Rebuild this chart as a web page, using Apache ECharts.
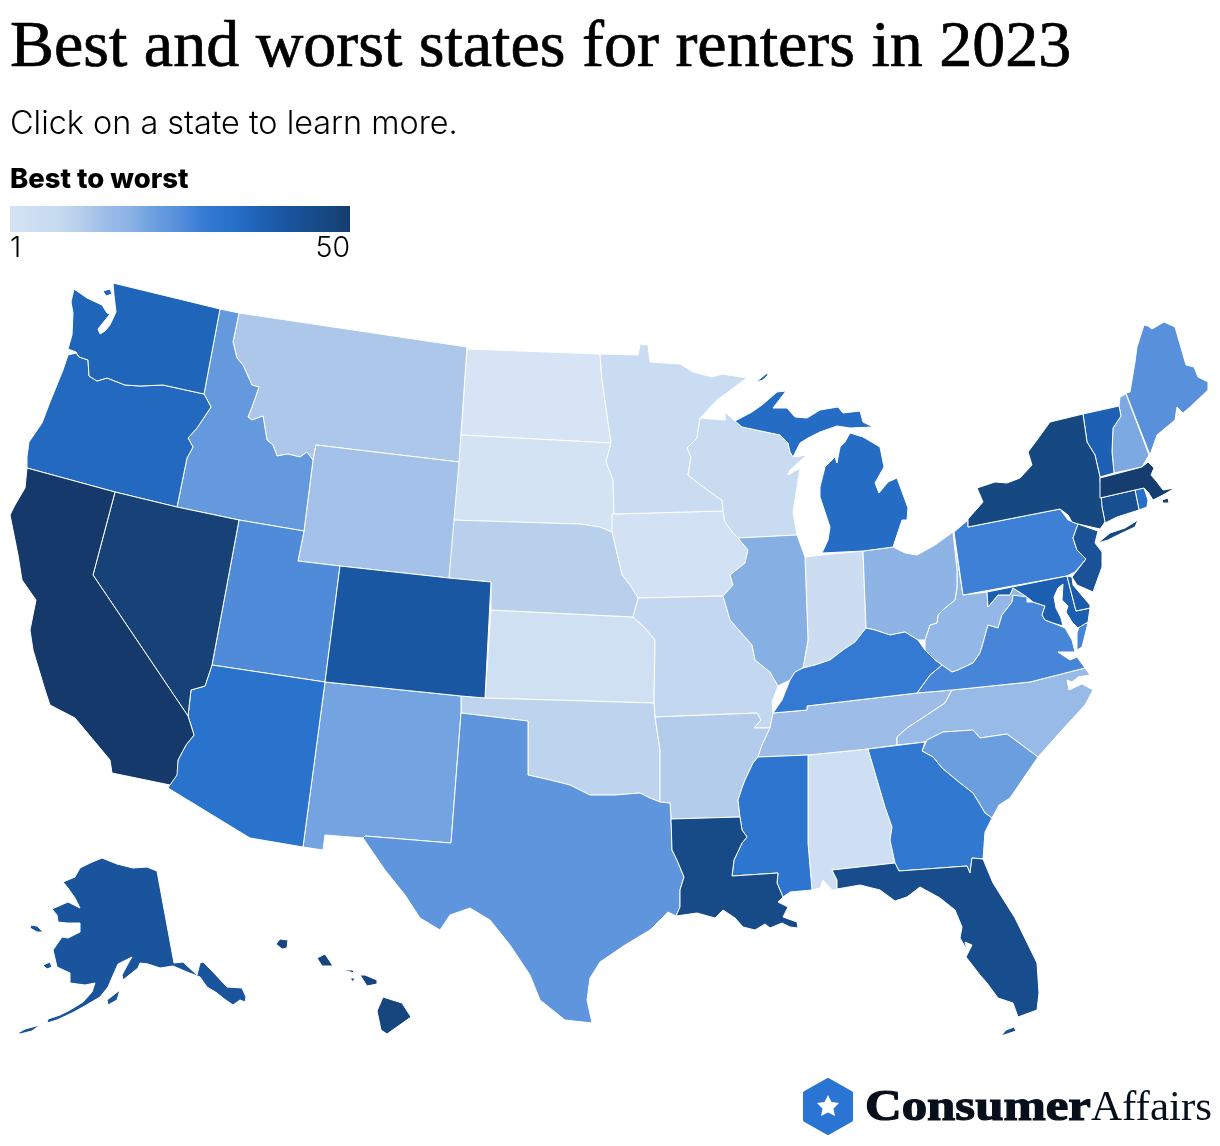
<!DOCTYPE html>
<html>
<head>
<meta charset="utf-8">
<title>Best and worst states for renters in 2023</title>
<script src="https://cdn.jsdelivr.net/npm/echarts@6/dist/echarts.min.js"></script>
<style>
html,body{margin:0;padding:0;background:#fff}
#main{width:1220px;height:1146px}
</style>
</head>
<body>
<div id="main"></div>
<script>
// rank of each state
var stateNames = ['ND','SD','IA','KS','AL','IN','MN','WI','MO','OK','NE','AR','MT','WY','TN','NC','WV','OH','IL','NH','NM','SC','ID','TX','ME','UT','VA','PA','KY','GA','MS','AZ','RI','MI','OR','WA','VT','MD','DE','CO','AK','NJ','CT','FL','LA','NY','HI','NV','MA','CA'];
var stateRanks = [1,2,3,4,5,6,7,8,9,10,11,12,13,14,15,16,17,18,19,20,21,22,23,24,25,26,27,28,29,30,31,32,33,34,35,36,37,38,39,40,41,42,43,44,45,46,47,48,49,50];
var rankMin = 1;
var rankMax = 50;

// state outlines, one string per ring
var outlines = {
WA:['113,283 220,309 204,394 163,385 140,386 125,385 107,378 97,381 89,376 88,360 79,357 76,352 68,349 72,335 73,313 71,302 74,289 87,298 102,305 107,313 110,314 98,329 100,334 105,331 110,325 116,312 114,295','103,291 110,289 112,294 106,296'],
OR:['68,355 76,353 79,357 88,360 89,376 97,381 107,378 125,385 140,386 163,385 204,394 211,407 197,428 188,438 193,447 187,458 177,507 115,492 27,468 27,457 29,442 42,423 50,402 63,370'],
CA:['27,468 115,492 93,575 188,716 194,735 186,745 178,760 177,775 170,785 112,773 110,760 95,742 75,718 50,705 45,690 33,650 30,630 36,600 22,580 18,555 10,515 15,505 25,488'],
NV:['115,492 177,507 239,520 212,665 205,686 191,690 188,716 93,575'],
ID:['220,309 239,313 233,342 237,358 243,365 252,385 259,387 252,407 248,417 252,420 263,416 267,440 273,445 277,456 288,454 300,457 307,452 313,460 304,531 239,520 177,507 187,458 193,447 188,438 197,428 211,407 204,394'],
MT:['239,313 467,347 459,462 316,445 313,460 307,452 300,457 288,454 277,456 273,445 267,440 263,416 252,420 248,417 252,407 259,387 252,385 243,365 237,358 233,342'],
WY:['316,445 459,462 449,578 340,566 298,561 304,531 313,460'],
UT:['239,520 304,531 298,561 340,566 325,682 212,665'],
CO:['340,566 449,578 491,582 485,698 461,696 325,682'],
AZ:['212,665 325,682 303,847 250,838 168,788 176,775 178,760 186,745 194,735 188,716 191,690 205,686'],
NM:['325,682 461,696 461,713 451,843 365,836 363,838 325,835 323,850 303,847'],
TX:['461,713 528,721 528,775 550,780 570,785 590,795 615,795 640,793 650,798 660,802 670,803 671,819 672,850 677,860 684,877 680,890 680,907 676,916 668,912 650,930 625,945 600,962 590,978 587,1000 592,1023 565,1020 540,1000 530,975 510,945 490,920 470,908 450,915 440,930 420,918 405,895 385,870 363,838 365,836 451,843'],
ND:['467,349 600,354 602,380 611,443 461,435'],
SD:['461,435 611,443 606,462 613,480 614,514 612,532 600,527 580,524 452,520'],
NE:['452,520 580,524 600,527 612,532 622,575 630,585 638,598 633,617 491,610 491,582 449,578'],
KS:['491,610 633,617 645,628 655,640 654,703 485,698'],
OK:['461,696 485,698 654,703 655,717 660,750 660,802 650,798 640,793 615,795 590,795 570,785 550,780 528,775 528,721 461,713'],
MN:['600,354 638,355 640,344 648,345 650,362 680,364 693,372 712,377 722,374 747,378 717,400 700,418 697,438 687,448 691,457 688,475 698,483 717,497 722,500 723,511 614,514 613,480 606,462 611,443 602,380'],
IA:['612,514 723,511 725,522 733,533 738,538 748,550 745,563 730,575 733,585 723,596 638,598 630,585 622,575 612,532'],
MO:['638,598 723,596 730,620 752,645 755,660 770,672 778,686 772,702 773,713 770,728 754,728 761,720 757,713 655,717 654,703 655,640 645,628 633,617'],
AR:['655,717 757,713 761,720 754,728 770,728 762,745 758,757 753,763 745,780 742,788 738,800 740,817 671,819 670,803 660,802 660,750'],
LA:['671,819 740,817 742,830 747,837 742,843 734,860 732,876 778,873 777,883 783,897 778,902 788,907 783,917 797,922 798,928 790,927 782,923 770,928 765,924 755,930 743,927 735,918 723,910 715,918 697,913 676,916 680,907 680,890 684,877 677,860 672,850'],
WI:['700,418 725,420 725,412 735,421 742,427 780,435 788,443 790,452 795,457 807,455 790,470 788,475 800,468 795,500 793,512 797,535 738,538 733,533 725,522 723,511 722,500 717,497 698,483 688,475 691,457 687,448 697,438'],
IL:['738,538 797,535 805,557 808,640 803,668 795,672 790,680 778,686 770,672 755,660 752,645 730,620 723,596 733,585 730,575 745,563 748,550'],
IN:['805,557 822,555 863,551 866,628 855,642 843,650 830,660 815,665 803,668 808,640'],
MI:['822,553 828,540 830,527 820,497 820,487 825,467 835,457 837,463 840,447 845,442 850,433 863,437 880,447 884,467 875,483 879,493 888,482 897,478 908,508 907,520 902,520 893,547 863,551','735,421 752,412 762,405 777,392 786,391 773,408 787,408 795,417 807,418 820,410 838,407 843,413 860,411 863,422 873,427 850,428 837,426 820,432 808,438 800,443 793,457 790,452 788,443 780,435 742,427','756,382 767,373 768,375 763,380'],
OH:['863,551 893,547 905,553 917,555 935,545 953,532 957,570 957,587 955,600 945,608 938,615 937,623 930,625 925,640 918,640 905,632 890,635 875,630 866,628'],
KY:['773,713 782,700 790,680 795,672 803,668 815,665 830,660 843,650 855,642 866,628 875,630 890,635 905,632 918,640 925,650 935,660 942,665 930,675 917,693 807,706 807,710'],
TN:['773,713 807,710 807,706 917,693 952,690 945,703 927,715 907,728 897,737 897,745 868,749 808,755 758,757 762,745 770,728'],
MS:['758,757 808,755 808,843 812,890 790,892 783,897 777,883 778,873 732,876 734,860 742,843 747,837 742,830 740,817 738,800 742,788 745,780 753,763'],
AL:['808,755 868,749 885,807 892,827 890,840 895,863 832,870 837,880 837,890 832,890 823,880 820,888 812,890 808,843'],
GA:['868,749 925,742 922,751 933,757 942,768 960,783 973,793 985,813 992,818 985,832 983,859 972,858 970,873 967,866 899,871 895,863 890,840 892,827 885,807'],
FL:['832,870 895,863 899,871 967,866 970,873 972,858 983,859 993,883 1015,918 1037,963 1039,993 1037,1010 1018,1017 1013,1003 998,998 987,983 980,975 966,957 972,945 965,942 967,950 960,938 962,927 955,910 940,898 920,887 907,897 895,901 880,890 860,885 837,889 837,880','1001,1036 1006,1030 1014,1027 1016,1031 1007,1034'],
SC:['922,751 927,740 943,732 973,730 980,738 1007,734 1038,757 1027,773 1010,798 999,805 992,818 985,813 973,793 960,783 942,768 933,757'],
NC:['1085,668 1090,675 1078,677 1072,682 1067,680 1069,690 1082,684 1093,690 1085,705 1062,730 1038,757 1007,734 980,738 973,730 943,732 927,740 925,742 897,745 897,737 907,728 927,715 945,703 952,690 1030,682'],
VA:['1027,597 1027,602 1033,602 1045,606 1042,615 1045,620 1053,623 1065,628 1072,640 1075,652 1058,652 1070,660 1077,657 1085,668 1030,682 952,690 917,693 930,675 942,665 952,672 958,670 973,663 980,653 983,643 988,625 998,628 1002,615 1012,602 1013,595','1080,624 1088,623 1082,647 1077,650 1077,633'],
WV:['953,532 963,595 987,592 988,607 998,595 1010,595 1013,588 1027,597 1027,602 1013,595 1012,602 1002,615 998,628 988,625 983,643 980,653 973,663 958,670 952,672 942,665 935,660 925,650 925,640 930,625 937,623 938,615 945,608 955,600 957,587 957,570'],
PA:['954,532 968,520 968,527 1060,509 1068,520 1078,524 1073,538 1077,550 1086,559 1075,572 1067,576 963,595'],
NY:['968,527 1060,509 1068,515 1072,522 1078,524 1100,529 1105,522 1102,507 1100,477 1095,455 1087,442 1083,414 1050,422 1037,440 1028,452 1032,465 1020,478 1007,483 995,482 977,488 983,502 968,519','1098,543 1110,533 1125,528 1138,520 1135,527 1122,533 1108,540'],
VT:['1083,414 1119,406 1121,416 1113,428 1112,452 1114,473 1100,477 1095,455 1087,442'],
NH:['1119,406 1120,397 1126,394 1149,455 1142,467 1114,473 1112,452 1113,428 1121,416'],
ME:['1126,393 1130,392 1135,362 1137,347 1144,325 1148,326 1152,329 1164,322 1175,327 1186,365 1194,367 1198,377 1208,382 1208,390 1190,407 1183,413 1177,407 1175,420 1157,435 1150,455'],
MA:['1100,478 1142,467 1148,462 1154,468 1151,475 1157,482 1163,490 1175,488 1163,495 1153,500 1148,492 1144,488 1135,490 1100,498','1162,500 1168,498 1169,503 1163,503'],
CT:['1100,498 1135,490 1139,510 1117,517 1105,523 1102,507'],
RI:['1135,490 1144,488 1148,500 1147,507 1139,510'],
NJ:['1078,524 1098,531 1095,543 1102,552 1102,567 1093,592 1077,585 1072,577 1086,559 1077,550 1073,538'],
DE:['1067,576 1072,577 1073,585 1090,605 1090,608 1076,611'],
MD:['987,592 1067,576 1076,611 1090,608 1088,622 1078,628 1072,622 1066,612 1068,606 1062,600 1063,584 1058,588 1054,597 1056,608 1061,618 1063,626 1053,623 1045,620 1042,615 1045,606 1033,602 1027,597 1013,588 1010,595 998,595 988,607'],
AK:['157,871 174,963 183,962 197,975 200,963 203,962 213,972 227,987 242,988 246,997 245,1002 240,1000 233,1005 223,998 217,993 207,987 200,977 187,972 173,966 160,968 148,964 140,963 138,968 123,980 122,975 129,962 132,957 118,964 111,980 108,987 100,997 83,1007 72,1013 57,1020 47,1023 48,1019 60,1015 70,1010 83,1002 92,992 95,983 85,985 70,983 70,973 57,967 53,950 62,937 68,938 80,932 80,923 67,923 58,922 57,915 52,909 68,902 80,908 75,898 68,888 63,882 75,877 80,868 90,863 102,858 117,864 133,868 147,867','31,925 37,926 43,932 37,932 30,928','43,965 50,962 52,967 47,969','107,1000 120,990 117,1000 108,1005','18,1033 25,1029 40,1025 32,1031 20,1034'],
HI:['276,944 280,939 288,940 287,948 282,949','317,958 325,954 333,966 322,966','343,970 353,970 354,973','350,978 355,978 353,982','360,975 365,975 377,980 377,984 367,986','383,997 402,1003 411,1017 387,1034 381,1030 377,1011']
};

function ring(str){
	var pts = str.split(' ').map(function(p){ return p.split(',').map(Number); });
	pts.push(pts[0]);
	return [pts];
}

var features = [];
for(var i=0;i<stateNames.length;i++){
	features.push({
		type:'Feature',
		properties:{name:stateNames[i]},
		geometry:{type:'MultiPolygon',coordinates:outlines[stateNames[i]].map(ring)}
	});
}
echarts.registerMap('usStates',{type:'FeatureCollection',features:features});

var seriesData = [];
for(var j=0;j<stateNames.length;j++){
	seriesData.push({name:stateNames[j],value:stateRanks[j]});
}

var option = {
	animation:false,
	backgroundColor:'#fff',
	title:[
		{text:'Best and worst states for renters in 2023',left:10,top:11,padding:0,
			textStyle:{fontFamily:'Liberation Serif',fontSize:66,fontWeight:'normal',color:'#000',lineHeight:76,textBorderColor:'#000',textBorderWidth:0.7}},
		{text:'Click on a state to learn more.',left:10,top:104,padding:0,
			textStyle:{fontFamily:'Inter',fontSize:32.4,fontWeight:300,color:'#000',lineHeight:40}},
		{text:'Best to worst',left:10,top:164,padding:0,
			textStyle:{fontFamily:'Inter',fontSize:27.5,fontWeight:800,color:'#000',lineHeight:32}},
		{text:'1',left:10,top:233,padding:0,
			textStyle:{fontFamily:'Inter',fontSize:28.5,fontWeight:300,color:'#000',lineHeight:30}},
		{text:'50',right:870,top:233,padding:0,
			textStyle:{fontFamily:'Inter',fontSize:28.5,fontWeight:300,color:'#000',lineHeight:30}}
	],
	visualMap:{
		type:'continuous',
		min:rankMin,
		max:rankMax,
		orient:'horizontal',
		left:6,
		top:206,
		itemWidth:26,
		itemHeight:348,
		padding:0,
		calculable:false,
		realtime:false,
		text:null,
		showLabel:false,
		inRange:{color:['#d6e4f5','#cfdff3','#c8dbf1','#b7ceec','#9dbde8','#8bb2e5','#6a9edf','#558edb','#347ad3','#2872cc','#1f65ba','#1a58a6','#184f91','#164880','#15396a']}
	},
	series:[{
		type:'map',
		map:'usStates',
		projection:{project:function(p){return p;},unproject:function(p){return p;}},
		boundingCoords:[[0,0],[1220,1146]],
		left:0,
		top:0,
		width:1220,
		height:1146,
		roam:false,
		selectedMode:false,
		label:{show:false},
		emphasis:{label:{show:false}},
		itemStyle:{borderColor:'#fff',borderWidth:1},
		data:seriesData
	}],
	graphic:[
		// the legend bar has rounded ends, these hide them
		{type:'rect',z:100,shape:{x:0,y:204,width:10,height:30},style:{fill:'#fff'}},
		{type:'rect',z:100,shape:{x:350,y:204,width:10,height:30},style:{fill:'#fff'}},
		{type:'polygon',shape:{points:[[828,1080],[851,1093],[851,1120],[828,1133],[805,1120],[805,1093]]},
			style:{fill:'#2a75d3',stroke:'#2a75d3',lineWidth:4,lineJoin:'round'}},
		{type:'polygon',shape:{points:[[828,1095],[831.5,1102],[839,1103],[833.5,1108.5],[835,1116],[828,1112.5],[821,1116],[822.5,1108.5],[817,1103],[824.5,1102]]},
			style:{fill:'#fff'}},
		{type:'text',x:865,y:1087,scaleX:1.155,style:{text:'Consumer',font:'900 44px "Liberation Serif"',fill:'#07101a',stroke:'#07101a',lineWidth:1.2}},
		{type:'text',x:1091,y:1087,style:{text:'Affairs',font:'normal 43px "Liberation Serif"',fill:'#07101a'}}
	]
};

var myChart = echarts.init(document.getElementById('main'),null,{renderer:'canvas'});
myChart.setOption(option);
</script>
</body>
</html>
